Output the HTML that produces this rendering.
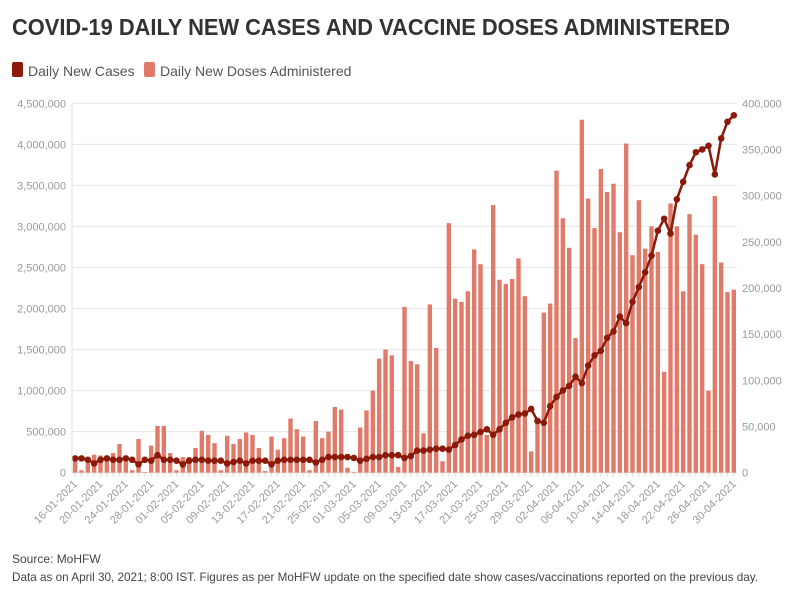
<!DOCTYPE html>
<html><head><meta charset="utf-8"><style>
body{margin:0;background:#fff;font-family:"Liberation Sans",sans-serif;}
svg{display:block}
</style></head><body>
<svg id="chart" width="796" height="600">
<text x="12" y="35" font-size="23" font-weight="bold" fill="#333" textLength="718" lengthAdjust="spacingAndGlyphs">COVID-19 DAILY NEW CASES AND VACCINE DOSES ADMINISTERED</text>
<g>
<g><rect x="12" y="62" width="11" height="15" rx="2" fill="#8b1a0a"/><text x="28" y="76" font-size="14" fill="#555">Daily New Cases</text></g>
<g><rect x="144" y="62" width="11" height="15" rx="2" fill="#e07b6a"/><text x="160" y="76" font-size="14" fill="#555">Daily New Doses Administered</text></g>
</g>
<g id="grid"></g><g id="bars"></g><g id="line"></g><g id="axes"></g>
<text x="12" y="563" font-size="12" fill="#444">Source: MoHFW</text>
<text x="12" y="581" font-size="12" fill="#444" textLength="746" lengthAdjust="spacingAndGlyphs">Data as on April 30, 2021; 8:00 IST. Figures as per MoHFW update on the specified date show cases/vaccinations reported on the previous day.</text>
</svg>
<script>
const doses=[0.17,0.03,0.12,0.22,0.21,0.2,0.24,0.35,0.2,0.03,0.41,0.01,0.33,0.57,0.57,0.24,0.03,0.19,0.19,0.3,0.51,0.46,0.36,0.03,0.45,0.35,0.41,0.49,0.46,0.3,0.02,0.44,0.28,0.42,0.66,0.53,0.44,0.03,0.63,0.42,0.5,0.8,0.77,0.06,0.01,0.55,0.76,1.0,1.39,1.5,1.43,0.07,2.02,1.36,1.32,0.48,2.05,1.52,0.14,3.04,2.12,2.08,2.21,2.72,2.54,0.46,3.26,2.35,2.3,2.36,2.61,2.15,0.26,0.61,1.95,2.06,3.68,3.1,2.74,1.64,4.3,3.34,2.98,3.7,3.42,3.52,2.93,4.01,2.65,3.32,2.73,3.0,2.69,1.23,3.28,3.0,2.21,3.15,2.9,2.54,1.0,3.37,2.56,2.2,2.23];
const cases=[15.5,15.5,14,10,14,15.5,14,14,15.5,14,9,14,13,19,14,14,13,9,13,14,14,13,13,13,10,11.5,13,10,13,13,13,9,13,14,14,14,14,14,11,14,17,17,17,17,16,13,15,17,17,19,19,19,16,18,24,24,25,26,26,25,30,36,40,41,44,47,41,47,54,60,63,64,69,56,54,72,82,89,94,104,97,116,127,132,146,153,169,162,185,201,217,235,262,275,259,296,315,333,347,350,354,323,362,380,387];
const leftTicks=[0,500000,1000000,1500000,2000000,2500000,3000000,3500000,4000000,4500000];
const rightTicks=[0,50000,100000,150000,200000,250000,300000,350000,400000];
const startDate=[2021,0,16];
const NS="http://www.w3.org/2000/svg";
const X0=72,X1=737,Y0=472.7,Y1=103.3,N=doses.length,step=(X1-X0)/N;
const xc=i=>X0+step*(i+0.5);
const yL=v=>Y0-(v/4500000)*(Y0-Y1);
const yR=v=>Y0-(v/400000)*(Y0-Y1);
function mk(tag,attrs,parent){const e=document.createElementNS(NS,tag);for(const k in attrs)e.setAttribute(k,attrs[k]);parent.appendChild(e);return e;}
const grid=document.getElementById('grid'),bars=document.getElementById('bars'),line=document.getElementById('line'),axes=document.getElementById('axes');
leftTicks.forEach((t,k)=>{const y=yL(t);
 const g=mk('line',{x1:X0,x2:X1,y1:y,y2:y,stroke:'#e6e6e6','stroke-width':1},grid);
 
 
 const tx=mk('text',{x:66,y:y+4,'font-size':11,fill:'#999','text-anchor':'end'},axes);tx.textContent=t.toLocaleString('en-US');
 
 
});
rightTicks.forEach(t=>{const y=yR(t);
 const tx=mk('text',{x:742,y:y+4,'font-size':11,fill:'#999'},axes);tx.textContent=t.toLocaleString('en-US');
 
 
});
const ax=mk('line',{x1:X0,x2:X0,y1:Y1,y2:Y0,stroke:'#e0e0e0'},axes);


doses.forEach((v,i)=>{const y=yL(v*1e6);
 const r=mk('rect',{x:xc(i)-2.2,y:y,width:4.4,height:Y0-y,fill:'#e07b6a'},bars);
 
 
 const tk=mk('line',{x1:xc(i),x2:xc(i),y1:Y0,y2:Y0+4,stroke:'#ddd'},axes);
 
 
 if(i%4===0){const d=new Date(startDate[0],startDate[1],startDate[2]+i);
  const s=String(d.getDate()).padStart(2,'0')+'-'+String(d.getMonth()+1).padStart(2,'0')+'-'+d.getFullYear();
  const tx=mk('text',{x:xc(i)+3,y:Y0+12,'font-size':11,fill:'#999','text-anchor':'end',transform:`rotate(-45 ${xc(i)+3} ${Y0+12})`},axes);tx.textContent=s;
  
  }
});
const pts=cases.map((v,i)=>xc(i)+','+yR(v*1000)).join(' ');
const pl=mk('polyline',{points:pts,fill:'none',stroke:'#8b1a0a','stroke-width':2.5,'stroke-linejoin':'round'},line);


cases.forEach((v,i)=>{const c=mk('circle',{cx:xc(i),cy:yR(v*1000),r:3.3,fill:'#8b1a0a'},line);
 
 });
</script>
</body></html>
